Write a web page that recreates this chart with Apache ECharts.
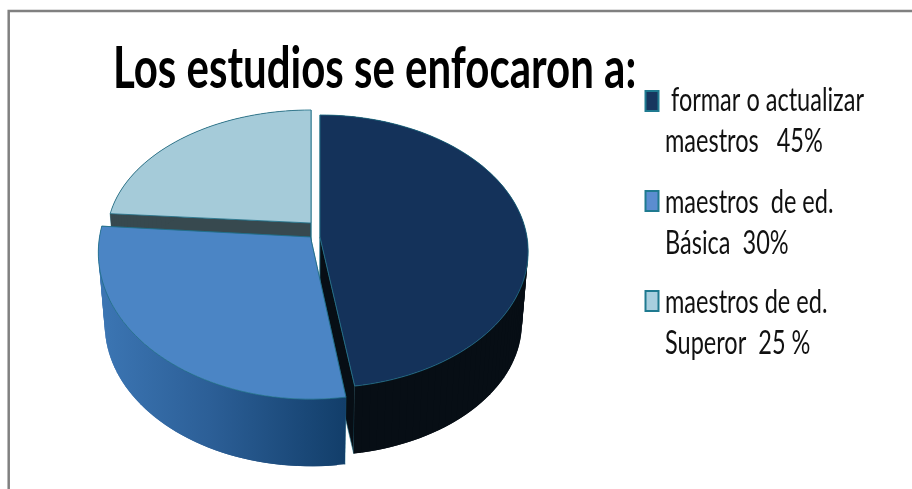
<!DOCTYPE html>
<html>
<head>
<meta charset="UTF-8">
<title>Los estudios se enfocaron a:</title>
<script src="https://cdn.jsdelivr.net/npm/echarts@6/dist/echarts.min.js"></script>
<style>
  html, body { margin: 0; padding: 0; background: #fff; overflow: hidden; }
  #main { width: 912px; height: 489px; }
</style>
</head>
<body>
<div id="main"></div>
<script>
var titleText = 'Los estudios se enfocaron a:';
// shares as drawn in the pie, the legend text says 45 / 30 / 25
var sliceNames = ['formar o actualizar maestros', 'maestros de ed. Básica', 'maestros de ed. Superor'];
var sliceValues = [47.6, 28.6, 23.8];
var legendLines = [
  [' formar o actualizar', 'maestros   45%'],
  ['maestros  de ed.', 'Básica  30%'],
  ['maestros de ed.', 'Superor  25 %']
];

var topColors = ['#14325a', '#4b85c5', '#a5cbd9'];
var swatchColors = ['#17365f', '#5b8dd0', '#a8cfdf'];
var edgeColor = '#1f6f86';

// apex on screen and radii of each exploded slice
var sliceBoxes = [
  { x: 320, y: 237, a: 207, b: 135 },
  { x: 310.5, y: 237, a: 211, b: 145 },
  { x: 311, y: 223, a: 203, b: 125 }
];
var wallFills = [
  '#070e15',
  new echarts.graphic.LinearGradient(98, 0, 345, 0, [
    { offset: 0, color: '#3c76b4' },
    { offset: 0.45, color: '#2c5f97' },
    { offset: 1, color: '#123e6a' }
  ], true),
  '#37494f'
];
var perspective = 0.106;
var depth = 72;
var bottomScale = 0.97;

function rimPoint(box, deg, lower) {
  var t = deg * Math.PI / 180;
  var u = Math.sin(t);
  var v = -Math.cos(t);
  var w = 1 - perspective * v;
  var s = lower ? bottomScale : 1;
  return [box.x + s * box.a * u / w, box.y + (lower ? depth : 0) + s * box.b * v / w];
}

function apexPoint(box, lower) {
  return [box.x, box.y + (lower ? depth : 0)];
}

function renderSlice(params, api) {
  var i = params.seriesIndex;
  var box = sliceBoxes[i];
  var from = api.value(0);
  var to = api.value(1);
  var fill = wallFills[i];
  var children = [];
  var steps = Math.ceil((to - from) / 2);
  var stepSize = (to - from) / steps;
  var k;

  // flat side faces
  [from, to].forEach(function (deg) {
    children.push({
      type: 'polygon',
      shape: { points: [apexPoint(box, false), apexPoint(box, true), rimPoint(box, deg, true), rimPoint(box, deg, false)] },
      style: { fill: i === 1 ? '#123e6a' : fill, stroke: edgeColor, lineWidth: 0.6 }
    });
  });

  // curved wall, quads overlap by one step so no seams show
  for (k = 0; k < steps; k++) {
    var d0 = from + stepSize * k;
    var d1 = Math.min(to, d0 + stepSize * 2);
    children.push({
      type: 'polygon',
      shape: { points: [rimPoint(box, d0, false), rimPoint(box, d1, false), rimPoint(box, d1, true), rimPoint(box, d0, true)] },
      style: { fill: fill }
    });
  }

  // top face
  var top = [apexPoint(box, false)];
  for (k = 0; k <= steps; k++) {
    top.push(rimPoint(box, from + stepSize * k, false));
  }
  children.push({
    type: 'polygon',
    shape: { points: top },
    style: { fill: topColors[i], stroke: edgeColor, lineWidth: 0.8 }
  });

  return { type: 'group', children: children };
}

var total = sliceValues.reduce(function (a, b) { return a + b; }, 0);
var startAngle = 0;
var drawOrder = [1, 2, 0]; // light slice first, blue one last
var series = sliceValues.map(function (value, i) {
  var sweep = value / total * 360;
  var item = [startAngle, startAngle + sweep];
  startAngle += sweep;
  return {
    type: 'custom',
    name: sliceNames[i],
    coordinateSystem: 'none',
    silent: true,
    animation: false,
    z: 2 + drawOrder[i],
    renderItem: renderSlice,
    data: [item]
  };
});

var graphics = [
  {
    type: 'polyline',
    shape: { points: [[8.7, 489], [8.7, 11], [912, 11]] },
    style: { fill: 'none', stroke: '#808080', lineWidth: 2.5 },
    z: 1
  },
  {
    type: 'text',
    x: 113,
    y: 41,
    scaleX: 1,
    scaleY: 1.35,
    style: {
      text: titleText,
      fontFamily: 'Lato',
      fontWeight: 'bold',
      fontSize: 42,
      fill: '#000'
    },
    z: 10
  }
];

var legendTop = [83, 185, 285];
var swatchTop = [91, 191, 291];
legendLines.forEach(function (lines, i) {
  graphics.push({
    type: 'rect',
    shape: { x: 645.5, y: swatchTop[i], width: 13, height: 20 },
    style: { fill: swatchColors[i], stroke: '#1f7a90', lineWidth: 2 },
    z: 10
  });
  lines.forEach(function (line, n) {
    graphics.push({
      type: 'text',
      x: 665,
      y: legendTop[i] + n * 41,
      scaleX: 0.98,
      scaleY: 1.4,
      style: {
        text: line,
        fontFamily: 'Lato',
        fontSize: 24,
        fill: '#111'
      },
      z: 10
    });
  });
});

var chart = echarts.init(document.getElementById('main'), null, { renderer: 'canvas' });
chart.setOption({
  animation: false,
  backgroundColor: '#fff',
  graphic: graphics,
  series: series
});
</script>
</body>
</html>
